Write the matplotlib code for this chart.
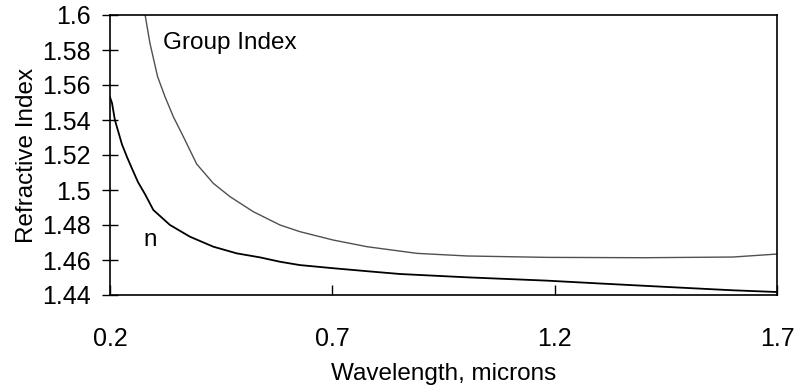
import matplotlib
matplotlib.use("Agg")
import matplotlib.pyplot as plt

plt.rcParams['font.family'] = ['Liberation Sans', 'DejaVu Sans']

# refractive index n
wl_n = [0.200, 0.2045, 0.211, 0.219, 0.227, 0.238, 0.249, 0.263, 0.279, 0.2974, 0.3349,
        0.3799, 0.4324, 0.4849, 0.5373, 0.5823, 0.627, 0.702, 0.778, 0.852, 1.003,
        1.183, 1.300, 1.452, 1.600, 1.700]
n_vals = [1.553, 1.5497, 1.540, 1.533, 1.526, 1.519, 1.5125, 1.5045, 1.4975, 1.4886, 1.480,
          1.4733, 1.4676, 1.4638, 1.4615, 1.459, 1.4571, 1.4553, 1.4536, 1.452, 1.4501,
          1.4482, 1.4466, 1.4446, 1.4427, 1.4417]

# group index
wl_g = [0.279, 0.2899, 0.307, 0.3237, 0.3424, 0.3649, 0.395, 0.4324, 0.4698, 0.5223,
        0.5823, 0.627, 0.702, 0.778, 0.890, 1.003, 1.183, 1.400, 1.601, 1.700]
g_vals = [1.600, 1.5838, 1.5648, 1.5533, 1.5419, 1.5305, 1.5148, 1.5038, 1.4962, 1.4876,
          1.480, 1.4762, 1.4714, 1.4676, 1.4638, 1.4623, 1.4615, 1.4613, 1.4617, 1.4634]

x_ticks = [0.2, 0.7, 1.2, 1.7]
x_labels = ["0.2", "0.7", "1.2", "1.7"]
y_ticks = [1.44, 1.46, 1.48, 1.5, 1.52, 1.54, 1.56, 1.58, 1.6]
y_labels = ["1.44", "1.46", "1.48", "1.5", "1.52", "1.54", "1.56", "1.58", "1.6"]

fig = plt.figure(figsize=(7.95, 3.9), dpi=100)
ax = fig.add_axes([110 / 795, 1 - 295 / 390, 667 / 795, 280 / 390])

ax.plot(wl_n, n_vals, color="black", lw=1.3)
ax.plot(wl_g, g_vals, color="#505050", lw=1.0)

ax.set_xlim(0.2, 1.7)
ax.set_ylim(1.44, 1.6)

ax.set_xticks(x_ticks)
ax.set_xticklabels(x_labels)
ax.set_yticks(y_ticks)
ax.set_yticklabels(y_labels)

ax.tick_params(axis="x", direction="in", length=7, width=1, pad=23, labelsize=18)
ax.tick_params(axis="y", direction="inout", length=12, width=1, pad=8, labelsize=18)

for s in ax.spines.values():
    s.set_linewidth(1.2)
    s.set_color("black")

ax.text(0.319, 1.584, "Group Index", fontsize=17.5, va="center", ha="left")
ax.text(0.29, 1.4714, "n", fontsize=17.5, va="center", ha="center")

ax.set_ylabel("Refractive Index", fontsize=17.5, labelpad=3)
ax.set_xlabel("Wavelength, microns", fontsize=17.5, labelpad=9)

fig.savefig("out.png", dpi=100)
